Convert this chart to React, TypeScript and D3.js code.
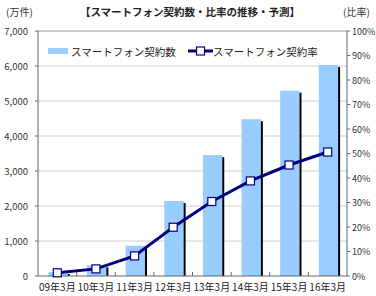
import React, { useEffect, useRef } from 'react';
import * as d3 from 'd3';

const categories = ['09年3月', '10年3月', '11年3月', '12年3月', '13年3月', '14年3月', '15年3月', '16年3月'];
const contracts = [114, 306, 866, 2143, 3454, 4480, 5294, 6029];
const ratio = [1.3, 2.9, 8.2, 19.9, 30.4, 38.8, 45.3, 50.6];
const leftTicks = [0, 1000, 2000, 3000, 4000, 5000, 6000, 7000];
const rightTicks = [0, 10, 20, 30, 40, 50, 60, 70, 80, 90, 100];

const W = 376;
const H = 296;
const margin = { top: 31, right: 29, bottom: 20, left: 38 };
const FONT = '"Noto Sans CJK JP", "Noto Sans", sans-serif';
const BAR = '#99CCFF';
const NAVY = '#000080';

const App = () => {
  const svgRef = useRef<SVGSVGElement>(null);

  useEffect(() => {
    const svg = d3.select(svgRef.current);
    svg.selectAll('*').remove();

    const iw = W - margin.left - margin.right;
    const ih = H - margin.top - margin.bottom;

    const x = d3.scaleBand().domain(categories).range([0, iw]).padding(0);
    const y = d3.scaleLinear().domain([0, 7000]).range([ih, 0]);
    const y2 = d3.scaleLinear().domain([0, 100]).range([ih, 0]);
    const bw = x.bandwidth();

    svg.append('rect').attr('width', W).attr('height', H).attr('fill', '#fff');

    // titles
    svg.append('text').attr('x', 190).attr('y', 16).attr('text-anchor', 'middle')
      .attr('font-family', FONT).attr('font-size', 10.5).attr('font-weight', 'bold').attr('fill', '#222')
      .text('【スマートフォン契約数・比率の推移・予測】');
    svg.append('text').attr('x', 6).attr('y', 16)
      .attr('font-family', FONT).attr('font-size', 10).attr('fill', '#333').text('(万件)');
    svg.append('text').attr('x', 343).attr('y', 16)
      .attr('font-family', FONT).attr('font-size', 10).attr('fill', '#333').text('(比率)');

    const g = svg.append('g').attr('transform', `translate(${margin.left},${margin.top})`);

    // gridlines
    g.selectAll('.grid').data(leftTicks.slice(1)).enter().append('line')
      .attr('x1', 0).attr('x2', iw)
      .attr('y1', d => y(d)).attr('y2', d => y(d))
      .attr('stroke', d => (d === 7000 ? '#999' : '#d0d0d0')).attr('stroke-width', 1);

    // bars + dark right edge
    g.selectAll('.bar').data(contracts).enter().append('rect')
      .attr('x', (d, i) => (x(categories[i]) as number) + bw * 0.27)
      .attr('y', d => y(d))
      .attr('width', bw * 0.5)
      .attr('height', d => ih - y(d))
      .attr('fill', BAR);
    g.selectAll('.shadow').data(contracts).enter().append('line')
      .attr('x1', (d, i) => (x(categories[i]) as number) + bw * 0.77 + 1)
      .attr('x2', (d, i) => (x(categories[i]) as number) + bw * 0.77 + 1)
      .attr('y1', d => y(d) + 2).attr('y2', ih)
      .attr('stroke', '#000').attr('stroke-width', 2);

    // axes
    const axisColor = '#666';
    g.append('line').attr('x1', 0).attr('x2', 0).attr('y1', 0).attr('y2', ih).attr('stroke', axisColor);
    g.append('line').attr('x1', iw).attr('x2', iw).attr('y1', 0).attr('y2', ih).attr('stroke', axisColor);
    g.append('line').attr('x1', 0).attr('x2', iw).attr('y1', ih).attr('y2', ih).attr('stroke', axisColor);

    g.selectAll('.lt').data(leftTicks).enter().append('line')
      .attr('x1', -3).attr('x2', 0).attr('y1', d => y(d)).attr('y2', d => y(d)).attr('stroke', axisColor);
    g.selectAll('.ll').data(leftTicks).enter().append('text')
      .attr('x', -10).attr('y', d => y(d) + 3.5).attr('text-anchor', 'end')
      .attr('font-family', FONT).attr('font-size', 9.5).attr('fill', '#333')
      .text(d => d3.format(',')(d));

    g.selectAll('.rt').data(rightTicks).enter().append('line')
      .attr('x1', iw).attr('x2', iw + 3).attr('y1', d => y2(d)).attr('y2', d => y2(d)).attr('stroke', axisColor);
    g.selectAll('.rl').data(rightTicks).enter().append('text')
      .attr('x', iw + 5).attr('y', d => y2(d) + 3.5)
      .attr('font-family', FONT).attr('font-size', 9).attr('fill', '#333')
      .text(d => `${d}%`);

    g.selectAll('.bt').data(categories.slice(1)).enter().append('line')
      .attr('x1', d => x(d) as number).attr('x2', d => x(d) as number)
      .attr('y1', ih - 4).attr('y2', ih).attr('stroke', axisColor);
    g.selectAll('.bl').data(categories).enter().append('text')
      .attr('x', d => (x(d) as number) + bw / 2).attr('y', ih + 15).attr('text-anchor', 'middle')
      .attr('font-family', FONT).attr('font-size', 10).attr('fill', '#222')
      .text(d => d);

    // ratio line
    const line = d3.line<number>()
      .x((d, i) => (x(categories[i]) as number) + bw / 2)
      .y(d => y2(d));
    g.append('path').datum(ratio).attr('d', line).attr('fill', 'none')
      .attr('stroke', NAVY).attr('stroke-width', 3);
    g.selectAll('.mk').data(ratio).enter().append('rect')
      .attr('x', (d, i) => (x(categories[i]) as number) + bw / 2 - 4)
      .attr('y', d => y2(d) - 4)
      .attr('width', 8).attr('height', 8)
      .attr('fill', '#fff').attr('stroke', NAVY).attr('stroke-width', 1.2);

    // legend
    const lg = svg.append('g');
    lg.append('rect').attr('x', 48).attr('y', 48).attr('width', 20).attr('height', 6).attr('fill', BAR);
    lg.append('text').attr('x', 71).attr('y', 55.5)
      .attr('font-family', FONT).attr('font-size', 10.5).attr('fill', '#222').text('スマートフォン契約数');
    lg.append('line').attr('x1', 188).attr('x2', 213).attr('y1', 51).attr('y2', 51)
      .attr('stroke', NAVY).attr('stroke-width', 3);
    lg.append('rect').attr('x', 196.5).attr('y', 47).attr('width', 8).attr('height', 8)
      .attr('fill', '#fff').attr('stroke', NAVY).attr('stroke-width', 1.2);
    lg.append('text').attr('x', 213).attr('y', 55.5)
      .attr('font-family', FONT).attr('font-size', 10.5).attr('fill', '#222').text('スマートフォン契約率');
  }, []);

  return (
    <svg ref={svgRef} width={W} height={H}
      style={{ position: 'absolute', left: 0, top: 0 }} />
  );
};

export default App;
